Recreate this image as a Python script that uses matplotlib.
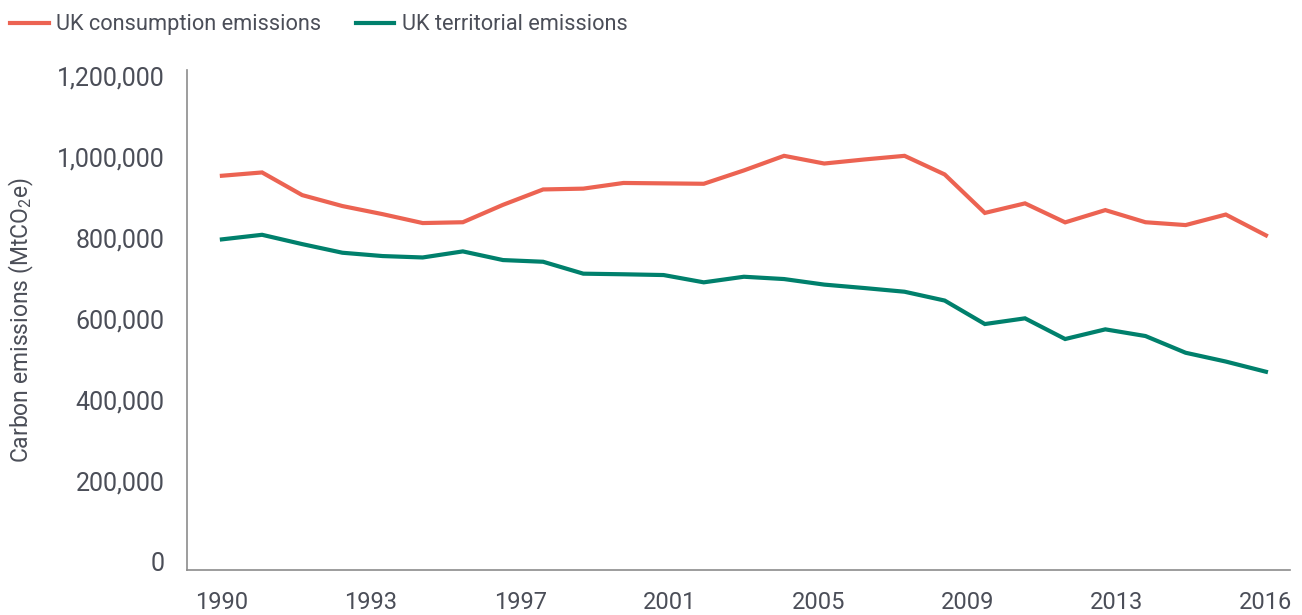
import matplotlib
matplotlib.use("Agg")
import matplotlib.pyplot as plt
from matplotlib.ticker import FuncFormatter

years = list(range(1990, 2017))
consumption = [953800, 962000, 906000, 879000, 859000, 837000, 839000, 882000, 920000,
               922000, 936000, 935000, 934000, 967000, 1003000, 984000, 994000, 1003000,
               957000, 862000, 885600, 838700, 869000, 839000, 832000, 858000, 806600]
territorial = [796700, 808000, 785000, 763700, 755500, 752000, 767000, 745600, 741400,
               712000, 710500, 708600, 690600, 704400, 698700, 685000, 676500, 667400,
               645600, 587600, 601700, 550600, 574500, 558000, 516700, 495000, 469800]
tick_labels = ["1990", "1993", "1997", "2001", "2005", "2009", "2013", "2016"]
y_ticks = [0, 200000, 400000, 600000, 800000, 1000000, 1200000]

text_col = "#4b4e58"
red = "#ec6352"
green = "#00806c"

plt.rcParams['font.family'] = ['Roboto', 'DejaVu Sans']
plt.rcParams['mathtext.fontset'] = 'custom'
plt.rcParams['mathtext.rm'] = 'Roboto'

fig = plt.figure(figsize=(13.02, 6.15), dpi=100)
ax = fig.add_axes([0.1436, 0.0732, 0.8472, 0.813])

ax.plot(years, consumption, color=red, lw=3, label="UK consumption emissions",
        solid_joinstyle="miter")
ax.plot(years, territorial, color=green, lw=3, label="UK territorial emissions",
        solid_joinstyle="miter")

ax.set_xlim(1989.13, 2016.6)
ax.set_ylim(-19750, 1215000)

# labels are spread evenly along the axis like in the original
n = len(tick_labels)
ax.set_xticks([years[0] + i * (years[-1] - years[0]) / (n - 1) for i in range(n)])
ax.set_xticklabels(tick_labels)
ax.set_yticks(y_ticks)
ax.yaxis.set_major_formatter(FuncFormatter(lambda v, p: f"{int(v):,}"))

ax.tick_params(axis="both", length=0, labelsize=18, colors=text_col)
ax.tick_params(axis="x", labelsize=17, pad=15)
ax.tick_params(axis="y", pad=16)

for s in ["top", "right"]:
    ax.spines[s].set_visible(False)
for s in ["left", "bottom"]:
    ax.spines[s].set_color("#8c8c8c")
    ax.spines[s].set_linewidth(1.2)

ax.set_ylabel("Carbon emissions (MtCO$_2$e)", fontsize=16.5, color=text_col, labelpad=15)

fig.legend(loc="upper left", bbox_to_anchor=(-0.002, 0.998), ncol=2, frameon=False,
           fontsize=15.7, handlelength=1.75, handletextpad=0.35, columnspacing=1.6,
           labelcolor=text_col, borderaxespad=0.2)

plt.savefig("out.png", dpi=100)
